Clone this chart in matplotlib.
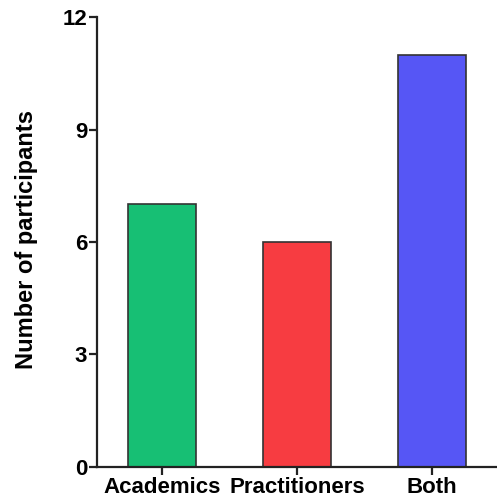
import matplotlib
matplotlib.use("Agg")
import matplotlib.pyplot as plt

categories = ["Academics", "Practitioners", "Both"]
participants = [7, 6, 11]
bar_colors = ["#17bf74", "#f73c41", "#5656f5"]
yticks = [0, 3, 6, 9, 12]

plt.rcParams["font.family"] = ["Liberation Sans", "DejaVu Sans"]
plt.rcParams["font.weight"] = "bold"

fig = plt.figure(figsize=(4.97, 5.01), dpi=100)
ax = fig.add_axes([0.195, 0.068, 0.81, 0.898])

x = range(len(categories))
ax.bar(x, participants, width=0.5, color=bar_colors, edgecolor="#333333", linewidth=1.2)

ax.set_xlim(-0.48, 2.5)
ax.set_ylim(0, 12)
ax.set_yticks(yticks)
ax.set_xticks(list(x))
ax.set_xticklabels(categories, fontsize=16, fontweight="bold")
ax.set_yticklabels([str(v) for v in yticks], fontsize=16, fontweight="bold")
ax.set_ylabel("Number of participants", fontsize=17, fontweight="bold")
ax.yaxis.set_label_coords(-0.147, 0.505)

for side in ["top", "right"]:
    ax.spines[side].set_visible(False)
for side in ["left", "bottom"]:
    ax.spines[side].set_linewidth(1.6)
    ax.spines[side].set_color("#222222")
ax.tick_params(axis="both", direction="out", length=6, width=1.6, color="#222222", pad=1)

fig.savefig("out.png", dpi=100)
